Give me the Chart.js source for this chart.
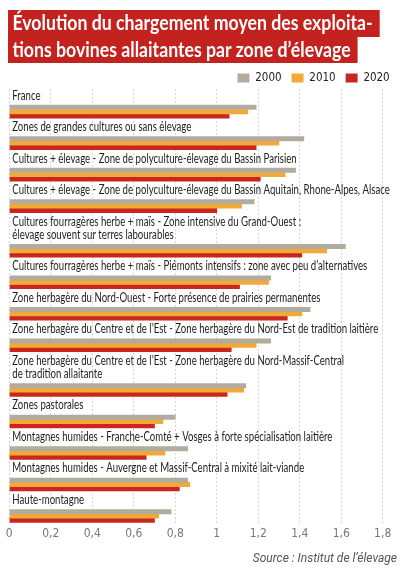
<!DOCTYPE html>
<html lang="fr">
<head>
<meta charset="utf-8">
<script src="https://cdn.jsdelivr.net/npm/chart.js@4.4.1/dist/chart.umd.min.js"></script>
<style>
  html, body { margin: 0; padding: 0; background: #fff; }
  #wrap { position: relative; width: 408px; height: 576px; overflow: hidden; }
  #title { position: absolute; left: 8px; top: 10px; transform: scaleX(0.885); transform-origin: 0 0; }
  .tl { display: table; height: 26.6px; line-height: 27px; padding: 0 8px 0 5px; background: #c4221f; color: #fff; font: bold 20px Lato, sans-serif; white-space: nowrap; }
  #source { position: absolute; right: 11px; top: 551px; font: italic 12px Roboto, sans-serif; color: #555; }
  canvas { position: absolute; left: 0; top: 0; }
</style>
</head>
<body>
<div id="wrap">
  <canvas id="chart" width="408" height="576"></canvas>
  <div id="title">
    <div class="tl">Évolution du chargement moyen des exploita-</div>
    <div class="tl">tions bovines allaitantes par zone d’élevage</div>
  </div>
  <div id="source">Source : Institut de l’élevage</div>
</div>
<script>
// zones, one array of text lines per zone
const categories = [
  ['France'],
  ['Zones de grandes cultures ou sans élevage'],
  ['Cultures + élevage - Zone de polyculture-élevage du Bassin Parisien'],
  ['Cultures + élevage - Zone de polyculture-élevage du Bassin Aquitain, Rhone-Alpes, Alsace'],
  ['Cultures fourragères herbe + maïs - Zone intensive du Grand-Ouest :', 'élevage souvent sur terres labourables'],
  ['Cultures fourragères herbe + maïs - Piémonts intensifs : zone avec peu d’alternatives'],
  ['Zone herbagère du Nord-Ouest - Forte présence de prairies permanentes'],
  ['Zone herbagère du Centre et de l’Est - Zone herbagère du Nord-Est de tradition laitière'],
  ['Zone herbagère du Centre et de l’Est - Zone herbagère du Nord-Massif-Central', 'de tradition allaitante'],
  ['Zones pastorales'],
  ['Montagnes humides - Franche-Comté + Vosges à forte spécialisation laitière'],
  ['Montagnes humides - Auvergne et Massif-Central à mixité lait-viande'],
  ['Haute-montagne']
];
const years = ['2000', '2010', '2020'];
const values2000 = [1.19, 1.42, 1.38, 1.18, 1.62, 1.26, 1.45, 1.26, 1.14, 0.80, 0.86, 0.86, 0.78];
const values2010 = [1.15, 1.30, 1.33, 1.12, 1.53, 1.25, 1.41, 1.19, 1.13, 0.74, 0.75, 0.87, 0.72];
const values2020 = [1.06, 1.19, 1.21, 1.00, 1.41, 1.11, 1.34, 1.07, 1.05, 0.70, 0.66, 0.82, 0.70];
const tickLabels = ['0', '0,2', '0,4', '0,6', '0,8', '1', '1,2', '1,4', '1,6', '1,8'];

const colors = ['#b3ab9d', '#f3a935', '#c8261e'];

// vertical layout: a zone takes its label lines, then the block of 3 bars
const LINE = 13, BAR_BLOCK = 13, GAP = 5;
const labelTops = [];
const barCenters = [];
let cursor = 0;
for (const lines of categories) {
  labelTops.push(cursor);
  barCenters.push(cursor + LINE * lines.length + 2.8 + BAR_BLOCK / 2);
  cursor += LINE * lines.length + BAR_BLOCK + GAP;
}
const totalUnits = cursor;

function series(label, values, color) {
  return {
    label,
    data: values.map((v, i) => ({ x: v, y: barCenters[i] })),
    backgroundColor: color,
    borderWidth: 0,
    barThickness: 4.3
  };
}

const zoneLabels = {
  id: 'zoneLabels',
  afterDatasetsDraw(chart) {
    const { ctx, chartArea, scales: { y } } = chart;
    const squeeze = 0.77;
    ctx.save();
    ctx.font = '12.5px Lato, sans-serif';
    ctx.fillStyle = '#1e1e1e';
    ctx.textBaseline = 'middle';
    ctx.scale(squeeze, 1);
    categories.forEach((lines, i) => {
      lines.forEach((line, k) => {
        ctx.fillText(line, (chartArea.left + 3) / squeeze, y.getPixelForValue(labelTops[i] + 6.5 + LINE * k));
      });
    });
    ctx.restore();
  }
};

// legend sits flush right and the plot starts right below it
const legendPlace = {
  id: 'legendPlace',
  beforeInit(chart) {
    const fit = chart.legend.fit;
    chart.legend.fit = function () {
      fit.call(this);
      this.height = 26.75;
    };
  },
  afterLayout(chart) {
    chart.legend.left += 17;
    chart.legend.right += 17;
  }
};

new Chart(document.getElementById('chart').getContext('2d'), {
  type: 'bar',
  data: {
    datasets: [
      series(years[0], values2000, colors[0]),
      series(years[1], values2010, colors[1]),
      series(years[2], values2020, colors[2])
    ]
  },
  options: {
    indexAxis: 'y',
    responsive: false,
    animation: false,
    layout: { padding: { top: 62.25, left: 9.3, right: 25.3, bottom: 34 } },
    plugins: {
      legend: {
        position: 'top',
        align: 'end',
        labels: {
          boxWidth: 12,
          boxHeight: 9,
          padding: 10,
          color: '#222',
          font: { family: '"DejaVu Sans Condensed", sans-serif', size: 11.5 }
        }
      },
      tooltip: { enabled: false }
    },
    scales: {
      x: {
        type: 'linear',
        min: 0,
        max: 1.8,
        ticks: {
          stepSize: 0.2,
          padding: 2,
          color: '#777',
          font: { family: '"DejaVu Sans Condensed", sans-serif', size: 12, lineHeight: 1.1 },
          callback: (v, i) => tickLabels[i]
        },
        grid: { color: '#d6d6d6', drawTicks: false },
        border: { display: false, dash: [2, 2] }
      },
      y: {
        type: 'linear',
        min: 0,
        max: totalUnits,
        reverse: true,
        offset: false,
        display: false
      }
    }
  },
  plugins: [zoneLabels, legendPlace]
});
</script>
</body>
</html>
